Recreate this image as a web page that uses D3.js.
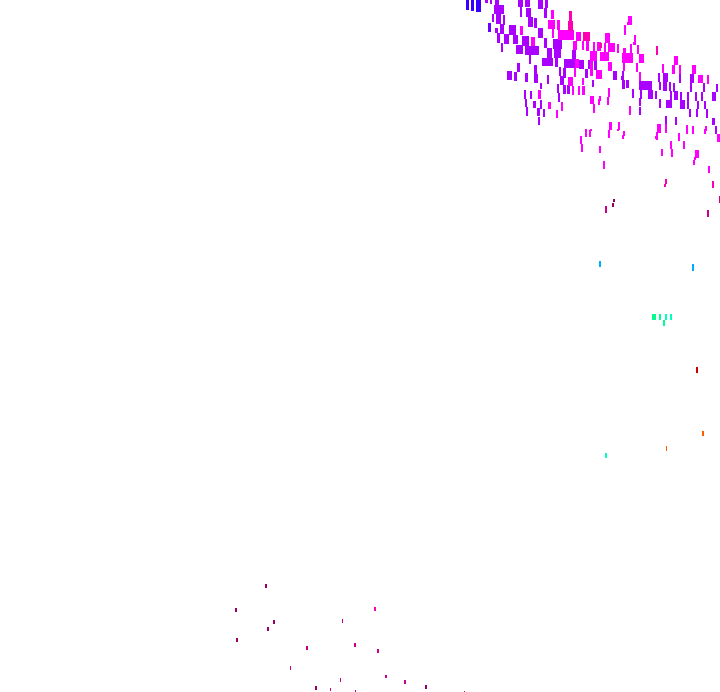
<!DOCTYPE html>
<html><head><meta charset="utf-8">
<script src="https://cdn.jsdelivr.net/npm/d3@7"></script>
<style>html,body{margin:0;padding:0;background:#fff;overflow:hidden}svg{display:block}</style>
</head><body><div id="c"></div>
<script>
// each cell: [x value, y value, x span, y span]
const blue=[[466,0,3,10],[471,0,3,11],[476,0,5,12]];
const indigo=[[488,23,3,9]];
const violet=[[485,0,3,3],[490,0,2,4],[495,0,4,5],[494,5,10,9],[496,14,5,10],[492,14,2,8],[503,15,2,10],[495,28,3,5],[500,24,4,10],
[518,0,5,7],[520,7,2,10],[525,0,5,7],[526,8,5,9],[528,17,5,10],[534,18,3,10],[538,0,5,9],[545,0,3,8],[544,8,3,10],
[509,25,7,10],[504,34,5,10],[497,33,3,10],[501,43,2,9],[513,35,5,9],[522,36,7,10],[538,28,5,10],[516,45,7,9],[525,46,14,9],[529,55,2,9],
[544,38,3,10],[542,58,11,8],[547,48,5,10],[553,39,9,10],[554,49,7,9],[555,58,3,9],[572,50,4,9],[564,59,11,9],[579,60,5,9],[588,60,2,9],
[559,67,2,9],[563,68,3,10],[585,69,3,9],[560,76,4,9],[557,84,2,9],[563,85,3,9],[567,85,3,9],[558,93,2,9],
[507,71,5,9],[517,63,3,9],[514,72,3,9],[525,73,3,9],[534,65,3,10],[534,74,4,9],[547,75,2,9],[540,83,2,6],[524,90,2,9],[530,91,2,8],
[525,99,2,8],[533,101,3,7],[540,100,2,9],[526,107,2,9],[537,108,3,8],[543,109,2,8],[538,117,2,8],
[594,61,3,9],[613,71,4,9],[622,71,2,9],[621,76,2,4],[592,80,2,7],[622,80,3,9],[626,80,3,8],[632,89,2,9],[639,81,13,9],[640,90,2,9],[648,90,5,9],[655,91,2,8],
[658,73,2,9],[659,82,2,8],[663,73,5,9],[663,82,4,9],[669,82,2,9],[673,83,2,9],[670,91,2,9],[674,91,4,9],[680,92,2,8],[690,74,4,9],[690,83,2,9],[679,74,2,9],
[703,83,2,9],[716,84,2,8],[687,92,2,8],[695,92,2,9],[701,92,2,9],[712,92,4,9],[639,98,2,8],[639,107,2,8],[659,99,2,9],[666,100,6,8],[680,100,5,9],[687,100,2,9],
[697,101,2,8],[704,101,2,8],[689,109,2,8],[696,109,2,8],[706,109,2,9],[665,116,2,9],[675,117,2,8],[712,118,3,7],[715,126,2,8],[665,120,2,5],[675,120,2,5]];
const magenta=[[551,10,3,9],[548,20,7,9],[557,20,3,10],[552,28,2,10],[520,26,3,9],[531,37,4,9],[558,30,16,10],[576,32,5,9],[573,41,4,9],[582,41,2,9],[586,41,3,10],
[575,59,4,9],[574,68,2,9],[568,77,5,9],[572,86,2,9],[578,86,2,9],[582,78,2,7],[582,86,3,9],[548,102,3,7],[561,102,2,9],[556,110,2,8],[538,90,3,9],
[628,16,4,9],[627,22,3,3],[624,25,2,10],[605,33,5,10],[634,35,2,9],[633,42,3,3],[593,42,2,9],[597,42,4,9],[604,43,2,9],[608,43,7,9],[617,44,2,9],[623,48,3,5],[630,44,2,10],[637,45,2,9],
[590,51,7,10],[600,52,9,9],[622,53,11,10],[639,54,5,9],[608,62,4,9],[623,63,2,8],[636,63,2,9],[596,70,6,9],[590,60,3,16],[639,72,2,9],[662,64,2,9],[674,56,4,9],[672,65,3,9],[679,65,2,9],[692,65,4,9],[698,75,5,8],[707,75,2,9],
[608,88,2,9],[607,97,2,8],[599,96,2,5],[598,99,2,6],[590,96,4,8],[593,104,2,9],[629,106,2,9],[609,122,3,8],[618,122,2,8],
[585,129,2,8],[589,130,2,7],[590,129,2,2],[608,130,2,8],[617,129,2,2],[623,131,2,5],[622,135,2,4],[580,136,2,8],[581,144,2,8],[599,146,2,7],[603,161,2,8],
[657,124,4,9],[665,124,2,9],[686,125,2,9],[692,126,2,8],[705,126,2,5],[704,129,2,5],[656,132,2,8],[655,136,2,3],[678,133,2,8],[717,134,3,8],[670,141,2,8],[683,141,2,8],[661,149,2,7],[671,149,2,8],[695,150,4,8],[694,157,2,3],[693,160,2,5],[708,166,2,7]];
const rose=[[569,11,3,10],[568,21,5,10],[583,32,7,9],[599,43,3,5],[656,46,2,9],[665,179,2,5],[664,184,2,3],[712,181,2,7],[374,607,2,4]];
const crimson=[[719,196,1,7],[707,210,2,7],[605,206,2,7],[342,619,1,4],[306,646,2,4],[354,643,2,4],[377,649,2,4],[290,666,1,4],[385,675,2,3],[404,680,2,4],[340,678,1,4],[330,688,1,3],[355,690,1,2],[464,691,1,1]];
const plum=[[613,199,2,3],[612,203,2,4],[265,584,2,4],[235,608,2,4],[273,620,2,4],[267,627,2,4],[236,638,2,4],[425,685,2,4],[315,686,2,4]];
const sky=[[599,261,2,6],[692,264,2,7]];
const mint=[[652,314,4,6],[659,314,2,6],[663,320,2,6]];
const aqua=[[665,314,2,6],[670,314,2,6],[605,453,2,5]];
const red=[[696,367,2,6]];
const orange=[[702,431,2,5],[666,446,1,5]];

const seriesNames=["blue","indigo","violet","magenta","rose","crimson","plum","sky","mint","aqua","red","orange"];
const seriesValues=[blue,indigo,violet,magenta,rose,crimson,plum,sky,mint,aqua,red,orange];
const seriesColors=["#3a00ff","#6a00ff","#aa00ff","#ff00ff","#ff00b0","#cc0088","#990066","#00aaff","#00ff90","#00ffc0","#cc0000","#ff5a00"];

const W=720,H=692;
const x=d3.scaleLinear().domain([0,720]).range([0,W]);
const y=d3.scaleLinear().domain([0,692]).range([0,H]);
const color=d3.scaleOrdinal().domain(seriesNames).range(seriesColors);
const svg=d3.select("#c").append("svg").attr("width",W).attr("height",H).attr("shape-rendering","crispEdges");
svg.selectAll("g").data(seriesNames).join("g").attr("fill",d=>color(d))
 .selectAll("rect").data((d,i)=>seriesValues[i]).join("rect")
 .attr("x",d=>x(d[0])).attr("y",d=>y(d[1]))
 .attr("width",d=>x(d[0]+d[2])-x(d[0])).attr("height",d=>y(d[1]+d[3])-y(d[1]));
</script></body></html>
